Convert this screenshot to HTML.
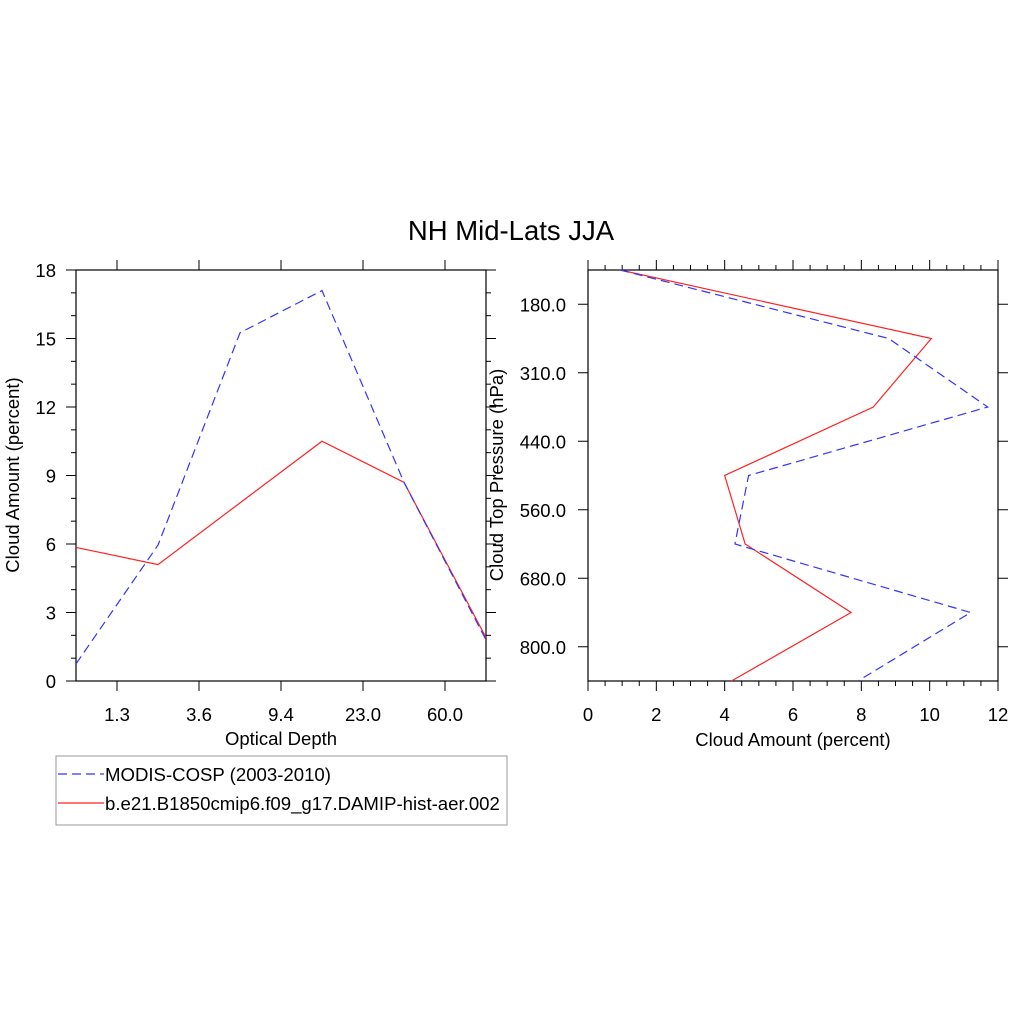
<!DOCTYPE html>
<html><head><meta charset="utf-8"><style>
html,body{margin:0;padding:0;background:#fff;}
svg{display:block;font-family:"Liberation Sans",sans-serif;}
</style></head><body>
<svg id="c" width="1024" height="1024" viewBox="0 0 1024 1024">
<text x="511" y="240" font-size="27.5" text-anchor="middle">NH Mid-Lats JJA</text>
<g id="left"></g>
<g id="right"></g>
<g>
<rect x="56" y="756" width="451" height="69" fill="#fff" stroke="#999" stroke-width="1"/>
<g>
<line x1="58" y1="774" x2="104" y2="774" stroke="#33f" stroke-width="1.2" stroke-dasharray="9,5"/>
<text x="105" y="781" font-size="18.6">MODIS-COSP (2003-2010)</text></g>
<g>
<line x1="58" y1="803" x2="104" y2="803" stroke="#f22" stroke-width="1.2"/>
<text x="105" y="810" font-size="18.6">b.e21.B1850cmip6.f09_g17.DAMIP-hist-aer.002</text></g>
</g>
</svg>
<script>
// Left panel data
const tauLabels = ["1.3","3.6","9.4","23.0","60.0"];
const modisTau = [0.75, 5.95, 15.25, 17.1, 8.7, 1.8];
const modelTau = [5.85, 5.1, 7.8, 10.5, 8.7, 1.9];
const leftYTicks = [0,3,6,9,12,15,18];
// Right panel data
const pLabels = ["180.0","310.0","440.0","560.0","680.0","800.0"];
const modisP = [0.94, 8.8, 11.7, 4.7, 4.3, 11.2, 7.9];
const modelP = [0.94, 10.05, 8.35, 4.0, 4.6, 7.7, 4.2];
const rightXTicks = [0,2,4,6,8,10,12];

const NS="http://www.w3.org/2000/svg";
const FS=18.5;
function mk(parent,tag,attrs){const e=document.createElementNS(NS,tag);for(const k in attrs)e.setAttribute(k,attrs[k]);parent.appendChild(e);return e;}
function ln(p,x1,y1,x2,y2,w){const e=mk(p,'line',{x1:x1,y1:y1,x2:x2,y2:y2,stroke:'#000','stroke-width':w||1});


return e;}
function tx(p,x,y,s,anchor,size){const e=mk(p,'text',{x:x,y:y,'font-size':size||FS,'text-anchor':anchor||'middle'});e.textContent=s;return e;}

// LEFT
const L=document.getElementById('left');
const lx0=76,lx1=486,ly0=681,ly1=270;
const lxs=i=>lx0+i*(lx1-lx0)/(modisTau.length-1);
const lys=v=>ly0-v*(ly0-ly1)/18;
for(let v=0;v<=18;v++){const y=lys(v);const maj=v%3===0;
ln(L,lx0-(maj?10:5),y,lx0,y);ln(L,lx1,y,lx1+(maj?10:5),y);}
leftYTicks.forEach(v=>{const t=tx(L,56,lys(v)+7,String(v),'end',FS);

});
tauLabels.forEach((s,i)=>{const x=lxs(i+0.5);ln(L,x,ly0,x,ly0+10);ln(L,x,ly1-10,x,ly1);
const t=tx(L,x,721,s,'middle',FS);

});
mk(L,'rect',{x:lx0,y:ly1,width:lx1-lx0,height:ly0-ly1,fill:'none',stroke:'#000','stroke-width':1.2});
let t1=tx(L,281,745,'Optical Depth','middle',FS);


let t2=tx(L,0,0,'Cloud Amount (percent)','middle',FS);t2.setAttribute('transform','translate(19,475) rotate(-90)');


let pl=mk(L,'polyline',{points:modelTau.map((v,i)=>lxs(i)+','+lys(v)).join(' '),fill:'none',stroke:'#f22','stroke-width':1.2});


pl=mk(L,'polyline',{points:modisTau.map((v,i)=>lxs(i)+','+lys(v)).join(' '),fill:'none',stroke:'#33f','stroke-width':1.2,'stroke-dasharray':'9,5'});



// RIGHT
const R=document.getElementById('right');
const rx0=588,rx1=998,ry0=270,ry1=681;
const rxs=v=>rx0+v*(rx1-rx0)/12;
const rys=i=>ry0+i*(ry1-ry0)/(modisP.length-1);
for(let k=0;k<=24;k++){const v=k*0.5,x=rxs(v);const maj=k%4===0;
ln(R,x,ry1,x,ry1+(maj?10:5));ln(R,x,ry0-(maj?10:5),x,ry0);}
rightXTicks.forEach(v=>{const t=tx(R,rxs(v),721,String(v),'middle',FS);

});
pLabels.forEach((s,i)=>{const y=rys(i+0.5);ln(R,rx0-10,y,rx0,y);ln(R,rx1,y,rx1+10,y);
const t=tx(R,566,y+7,s,'end',FS);

});
mk(R,'rect',{x:rx0,y:ry0,width:rx1-rx0,height:ry1-ry0,fill:'none',stroke:'#000','stroke-width':1.2});
let t3=tx(R,793,746,'Cloud Amount (percent)','middle',FS);


let t4=tx(R,0,0,'Cloud Top Pressure (hPa)','middle',FS);t4.setAttribute('transform','translate(503,475) rotate(-90)');


pl=mk(R,'polyline',{points:modelP.map((v,i)=>rxs(v)+','+rys(i)).join(' '),fill:'none',stroke:'#f22','stroke-width':1.2});


pl=mk(R,'polyline',{points:modisP.map((v,i)=>rxs(v)+','+rys(i)).join(' '),fill:'none',stroke:'#33f','stroke-width':1.2,'stroke-dasharray':'9,5'});


</script>
</body></html>
